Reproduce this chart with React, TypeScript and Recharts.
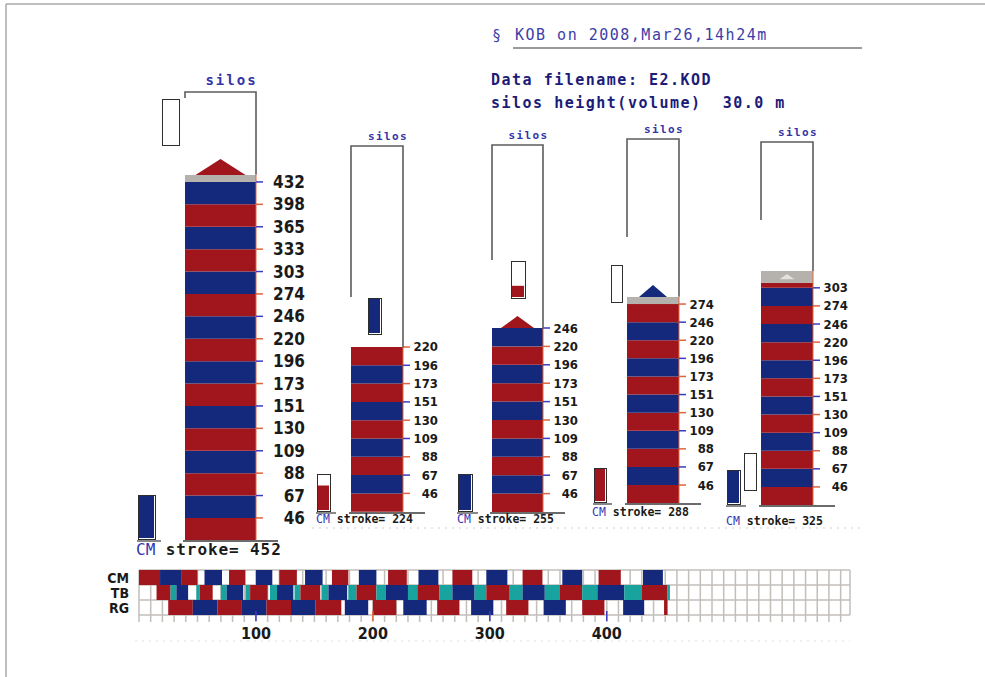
import React from 'react';
import { BarChart, Bar, XAxis, YAxis, Cell, CartesianGrid } from 'recharts';

const RED = '#a0161c';
const BLUE = '#14287c';
const TEAL = '#19a39f';
const CAP = '#b5b1ad';
const FRAME = '#5c5c5c';
const GRID = '#c2beba';
const TICK_BLUE = '#3b3bc4';
const TICK_RED = '#e0643c';
const COLORS: Record<string, string> = { r: RED, b: BLUE, t: TEAL };

// stroke value printed at every band boundary of each silo
const SILO1_LABELS = [46, 67, 88, 109, 130, 151, 173, 196, 220, 246, 274, 303, 333, 365, 398, 432];
const SILO2_LABELS = [46, 67, 88, 109, 130, 151, 173, 196, 220];
const SILO3_LABELS = [46, 67, 88, 109, 130, 151, 173, 196, 220, 246];
const SILO4_LABELS = [46, 67, 88, 109, 130, 151, 173, 196, 220, 246, 274];
const SILO5_LABELS = [46, 67, 88, 109, 130, 151, 173, 196, 220, 246, 274, 303];
const SILO_LABELS = [SILO1_LABELS, SILO2_LABELS, SILO3_LABELS, SILO4_LABELS, SILO5_LABELS];
const STROKES = [452, 224, 255, 288, 325];
// part of the next band filled above the top label, and grey cap (band units)
const TOP_FILL = [0, 0, 0, 0, 0.27];
const CAP_FILL = [0.31, 0, 0, 0.39, 0.66];
// CM indicator (bottom left of each silo) and the floating level box
const CM_LEVEL = [1, 0.7, 1, 1, 1];
const CM_COLOR = ['b', 'r', 'b', 'r', 'b'];
const BOX_LEVEL = [0, 1, 0.32, 0, 0];
const BOX_COLOR = ['r', 'b', 'r', 'r', 'r'];

// bottom strip: [start, end, colour] per row, in strokes
const CM_SEGS: [number, number, string][] = [
  [0, 18, 'r'], [18, 36, 'b'], [36, 50, 'r'], [56, 71, 'b'], [77, 91, 'r'], [100, 114, 'b'],
  [120, 135, 'r'], [142, 157, 'b'], [165, 179, 'r'], [188, 203, 'b'], [213, 229, 'r'], [239, 256, 'b'],
  [268, 285, 'r'], [297, 315, 'b'], [328, 345, 'r'], [362, 379, 'b'], [393, 412, 'r'], [431, 448, 'b'],
];
const TB_SEGS: [number, number, string][] = [
  [15, 27, 'r'], [27, 32, 't'], [32, 42, 'b'], [49, 52, 't'], [52, 63, 'r'], [70, 75, 't'],
  [75, 89, 'b'], [91, 95, 't'], [95, 110, 'r'], [112, 118, 't'], [118, 132, 'b'], [133, 138, 't'],
  [138, 155, 'r'], [156, 162, 't'], [162, 178, 'b'], [179, 186, 't'], [186, 203, 'r'], [203, 211, 't'],
  [211, 230, 'b'], [230, 238, 't'], [238, 257, 'r'], [257, 268, 't'], [268, 287, 'b'], [287, 297, 't'],
  [297, 317, 'r'], [317, 328, 't'], [328, 347, 'b'], [347, 360, 't'], [360, 379, 'r'], [379, 392, 't'],
  [392, 415, 'b'], [415, 430, 't'], [430, 452, 'r'], [452, 454, 't'],
];
const RG_SEGS: [number, number, string][] = [
  [25, 46, 'r'], [46, 67, 'b'], [67, 88, 'r'], [88, 109, 'b'], [109, 130, 'r'], [130, 151, 'b'],
  [151, 173, 'r'], [176, 196, 'b'], [200, 220, 'r'], [226, 246, 'b'], [255, 274, 'r'], [284, 303, 'b'],
  [314, 333, 'r'], [346, 365, 'b'], [379, 398, 'r'], [414, 432, 'b'], [449, 452, 'r'],
];
const STRIP_ROWS = ['CM', 'TB', 'RG'];
const STRIP_SEGS = [CM_SEGS, TB_SEGS, RG_SEGS];
const AXIS_LABELS = [100, 200, 300, 400];
const AXIS_MARKS = ['b', 'r', 'b', 'b'];
const STRIP_MAX = 608;

const SILO_LAYOUT = [
  { left: 185, right: 256, bottom: 540, band: 22.4, frameTop: 92, frameLeftEnd: 98, big: true,
    roof: { color: RED, base: 50, h: 16, inside: false },
    box: { x: 162, y: 99, w: 18, h: 47 }, cm: { x: 138, y: 495, w: 18, h: 45 }, text: { x: 136, y: 549 } },
  { left: 351, right: 403, bottom: 512, band: 18.3, frameTop: 146, frameLeftEnd: 297, big: false,
    roof: null, box: { x: 368, y: 298, w: 14, h: 37 }, cm: { x: 317, y: 474, w: 14, h: 38 }, text: { x: 316, y: 519 } },
  { left: 492, right: 543, bottom: 512, band: 18.4, frameTop: 145, frameLeftEnd: 260, big: false,
    roof: { color: RED, base: 33, h: 12, inside: false },
    box: { x: 511, y: 261, w: 15, h: 38 }, cm: { x: 458, y: 474, w: 15, h: 38 }, text: { x: 457, y: 519 } },
  { left: 627, right: 679, bottom: 503, band: 18.1, frameTop: 139, frameLeftEnd: 237, big: false,
    roof: { color: BLUE, base: 28, h: 12, inside: false },
    box: { x: 611, y: 265, w: 12, h: 38 }, cm: { x: 594, y: 468, w: 13, h: 35 }, text: { x: 592, y: 512 } },
  { left: 761, right: 813, bottom: 505, band: 18.1, frameTop: 142, frameLeftEnd: 220, big: false,
    roof: { color: '#e4e0dc', base: 15, h: 6, inside: true },
    box: { x: 744, y: 453, w: 13, h: 38 }, cm: { x: 727, y: 470, w: 14, h: 35 }, text: { x: 726, y: 521 } },
];

const MONO = "'DejaVu Sans Mono', monospace";
const COND = "'DejaVu Sans Condensed', 'DejaVu Sans', sans-serif";

const bandColor = (i: number) => (i % 2 ? BLUE : RED);

const SiloTick = (props: any) => {
  const { x, y, payload, labels, big } = props;
  const idx = payload.value - 1;
  return (
    <g>
      <line x1={x} x2={x + 7} y1={y} y2={y} stroke={idx % 2 ? TICK_BLUE : TICK_RED} strokeWidth={1.5} />
      <text x={x + (big ? 49 : 35)} y={y} textAnchor="end" dominantBaseline="central"
        fontFamily={COND} fontStretch="condensed" fontWeight="bold" fontSize={big ? 17 : 13} fill="#1a1a1a">
        {labels[idx]}
      </text>
    </g>
  );
};

function siloTotal(i: number) {
  return SILO_LABELS[i].length + TOP_FILL[i] + CAP_FILL[i];
}

function Silo({ i }: { i: number }) {
  const labels = SILO_LABELS[i];
  const lay = SILO_LAYOUT[i];
  const n = labels.length;
  const total = siloTotal(i);
  const plotH = total * lay.band;
  const mt = lay.roof && !lay.roof.inside ? lay.roof.h + 4 : 10;
  const bodyW = lay.right - lay.left;
  const axisW = lay.big ? 52 : 40;
  const row: any = { name: 'silo' };
  labels.forEach((_, k) => (row['b' + k] = 1));
  if (TOP_FILL[i]) row.top = TOP_FILL[i];
  if (CAP_FILL[i]) row.cap = CAP_FILL[i];
  const lastKey = CAP_FILL[i] ? 'cap' : TOP_FILL[i] ? 'top' : 'b' + (n - 1);
  const roof = lay.roof;

  const roofShape = (p: any) => {
    const { x, y, width, height, fill } = p;
    const cx = x + width / 2;
    const base = roof ? roof.base : 0;
    const yb = roof && roof.inside ? y + height * 0.7 : y;
    const ya = roof && roof.inside ? y + height * 0.25 : y - (roof ? roof.h : 0);
    return (
      <g>
        <rect x={x} y={y} width={width} height={height} fill={fill} />
        {roof && (
          <polygon points={`${cx - base / 2},${yb} ${cx + base / 2},${yb} ${cx},${ya}`} fill={roof.color} />
        )}
      </g>
    );
  };

  const keys = Object.keys(row).filter((k) => k !== 'name');
  const keyColor = (k: string) => (k === 'cap' ? CAP : k === 'top' ? bandColor(n) : bandColor(Number(k.slice(1))));

  return (
    <div style={{ position: 'absolute', left: lay.left, top: lay.bottom - plotH - mt }}>
      <BarChart width={bodyW + axisW} height={mt + plotH} data={[row]}
        margin={{ top: mt, right: 0, bottom: 0, left: 0 }} barCategoryGap={0}>
        <XAxis dataKey="name" hide />
        <YAxis orientation="right" type="number" domain={[0, total]}
          ticks={labels.map((_, k) => k + 1)} interval={0} tickSize={0} tickMargin={0} width={axisW}
          axisLine={{ stroke: TICK_RED, strokeWidth: 1 }} tickLine={false}
          tick={<SiloTick labels={labels} big={lay.big} />} />
        {keys.map((k) => (
          <Bar key={k} dataKey={k} stackId="s" fill={keyColor(k)} isAnimationActive={false}
            shape={k === lastKey && roof ? roofShape : undefined} />
        ))}
      </BarChart>
    </div>
  );
}

function Level({ x, y, w, h, level, color }: any) {
  return (
    <div style={{ position: 'absolute', left: x, top: y, width: w, height: h, boxSizing: 'border-box',
      border: '1.5px solid #2e2e2e', background: '#fff' }}>
      <BarChart width={w - 3} height={h - 3} data={[{ name: 'l', v: level }]}
        margin={{ top: 0, right: 0, bottom: 0, left: 0 }} barCategoryGap={0}>
        <XAxis dataKey="name" hide />
        <YAxis type="number" domain={[0, 1]} hide />
        <Bar dataKey="v" fill={color} isAnimationActive={false} />
      </BarChart>
    </div>
  );
}

function buildStrip() {
  const pieces = STRIP_SEGS.map((segs) => {
    let pos = 0;
    const out: { len: number; fill: string }[] = [];
    segs.forEach(([s, e, c]) => {
      out.push({ len: Math.max(0, s - pos), fill: 'transparent' });
      out.push({ len: e - s, fill: COLORS[c] });
      pos = e;
    });
    return out;
  });
  const maxN = Math.max(...pieces.map((p) => p.length));
  const data = STRIP_ROWS.map((name, r) => {
    const row: any = { name };
    for (let k = 0; k < maxN; k++) row['p' + k] = pieces[r][k] ? pieces[r][k].len : 0;
    return row;
  });
  return { pieces, maxN, data };
}

const gridTicks: number[] = [];
for (let v = 0; v <= 600; v += 10) gridTicks.push(v);

const StripTick = (props: any) => {
  const { x, y, payload } = props;
  const k = AXIS_LABELS.indexOf(payload.value);
  if (k < 0) return <g />;
  return (
    <g>
      <line x1={x} x2={x} y1={y - 13} y2={y - 3} stroke={COLORS[AXIS_MARKS[k]] === RED ? TICK_RED : TICK_BLUE}
        strokeWidth={1.5} />
      <text x={x} y={y + 9} textAnchor="middle" dominantBaseline="central" fontFamily={COND}
        fontStretch="condensed" fontWeight="bold" fontSize={16} fill="#1a1a1a">
        {payload.value}
      </text>
    </g>
  );
};

const RowTick = (props: any) => {
  const { x, y, payload } = props;
  return (
    <text x={x} y={y} textAnchor="end" dominantBaseline="central" fontFamily={COND} fontStretch="condensed"
      fontWeight="bold" fontSize={14} fill="#1a1a1a">
      {payload.value}
    </text>
  );
};

function Strip() {
  const { pieces, maxN, data } = buildStrip();
  return (
    <div style={{ position: 'absolute', left: 103, top: 563 }}>
      <BarChart layout="vertical" width={749} height={82} data={data}
        margin={{ top: 0, right: 2, bottom: 0, left: 0 }} barCategoryGap={0}>
        <CartesianGrid stroke={GRID} strokeWidth={1.5}
          horizontalCoordinatesGenerator={(p: any) => [0, 1, 2, 3].map((k) => p.offset.top + (k * p.offset.height) / 3)} />
        <XAxis type="number" domain={[0, STRIP_MAX]} ticks={gridTicks} interval={0} height={30}
          tickSize={7} tickMargin={2} axisLine={false} tickLine={{ stroke: GRID, strokeWidth: 1.5 }}
          tick={<StripTick />} />
        <XAxis xAxisId="top" orientation="top" type="number" domain={[0, STRIP_MAX]} ticks={gridTicks}
          interval={0} height={7} tickSize={7} axisLine={false} tickLine={{ stroke: GRID, strokeWidth: 1.5 }}
          tick={() => <g />} />
        <YAxis type="category" dataKey="name" width={36} tickSize={0} tickMargin={10} axisLine={false}
          interval={0} tickLine={false} tick={<RowTick />} />
        {Array.from({ length: maxN }, (_, k) => (
          <Bar key={k} dataKey={'p' + k} stackId="s" isAnimationActive={false}>
            {data.map((_, r) => (
              <Cell key={r} fill={pieces[r][k] ? pieces[r][k].fill : 'transparent'} />
            ))}
          </Bar>
        ))}
      </BarChart>
    </div>
  );
}

export default function App() {
  return (
    <div style={{ position: 'absolute', left: 0, top: 0, width: 985, height: 677, background: '#fff', overflow: 'hidden' }}>
      {SILO_LAYOUT.map((_, i) => <Silo key={i} i={i} />)}
      {SILO_LAYOUT.map((lay, i) => (
        <React.Fragment key={'l' + i}>
          <Level {...lay.cm} level={CM_LEVEL[i]} color={COLORS[CM_COLOR[i]]} />
          <Level {...lay.box} level={BOX_LEVEL[i]} color={COLORS[BOX_COLOR[i]]} />
        </React.Fragment>
      ))}
      <Strip />
      <svg width={985} height={677} style={{ position: 'absolute', left: 0, top: 0, pointerEvents: 'none' }}>
        <line x1={6} x2={985} y1={4} y2={4} stroke="#a8a8a8" strokeWidth={1.5} />
        <line x1={6} x2={6} y1={4} y2={677} stroke="#a8a8a8" strokeWidth={1.5} />
        <text x={492} y={41} fontFamily={MONO} fontSize={15} fill="#3d3da8">§</text>
        <text x={515} y={40} fontFamily={MONO} fontSize={15} letterSpacing={1.5} fill="#3d3da8">
          KOB on 2008,Mar26,14h24m
        </text>
        <line x1={513} x2={862} y1={48} y2={48} stroke="#9a9a9a" strokeWidth={2} />
        <text x={491} y={85} fontFamily={MONO} fontSize={15} fontWeight="bold" letterSpacing={1.5} fill="#1c1c78">
          Data filename: E2.KOD
        </text>
        <text x={491} y={108} fontFamily={MONO} fontSize={15} fontWeight="bold" letterSpacing={1.5} fill="#1c1c78"
          style={{ whiteSpace: 'pre' }}>
          {'silos height(volume)  30.0 m'}
        </text>
        <line x1={312} x2={860} y1={528} y2={528} stroke="#d0d0d0" strokeWidth={1} strokeDasharray="2 5" />
        <line x1={135} x2={850} y1={641} y2={641} stroke="#e0e0e0" strokeWidth={1} strokeDasharray="2 5" />
        {SILO_LAYOUT.map((lay, i) => {
          const fillTop = lay.bottom - siloTotal(i) * lay.band;
          const cx = (lay.left + lay.right) / 2 + 11;
          return (
            <g key={i}>
              <path d={`M${lay.left},${lay.frameLeftEnd} V${lay.frameTop} H${lay.right} V${fillTop}`}
                fill="none" stroke={FRAME} strokeWidth={1.6} />
              <line x1={lay.left - 2} x2={lay.right + 22} y1={lay.bottom + 1} y2={lay.bottom + 1} stroke="#3a3a3a" strokeWidth={1.5} />
              <line x1={lay.cm.x - 1} x2={lay.cm.x + lay.cm.w + 5} y1={lay.cm.y + lay.cm.h + 1} y2={lay.cm.y + lay.cm.h + 1}
                stroke="#3a3a3a" strokeWidth={1.2} />
              <text x={cx} y={lay.frameTop - (lay.big ? 7 : 6)} textAnchor="middle" fontFamily={MONO} fontWeight="bold"
                fontSize={lay.big ? 14 : 11} letterSpacing={lay.big ? 2 : 1.4} fill="#3535a8">
                silos
              </text>
              <text x={lay.text.x} y={lay.text.y} dominantBaseline="central" fontFamily={MONO}
                fontSize={lay.big ? 16 : 11.5} style={{ whiteSpace: 'pre' }}>
                <tspan fill="#3535b0">CM</tspan>
                <tspan fill="#1a1a1a" fontWeight="bold" letterSpacing={lay.big ? 0.9 : 0}>{' stroke= ' + STROKES[i]}</tspan>
              </text>
            </g>
          );
        })}
      </svg>
    </div>
  );
}
